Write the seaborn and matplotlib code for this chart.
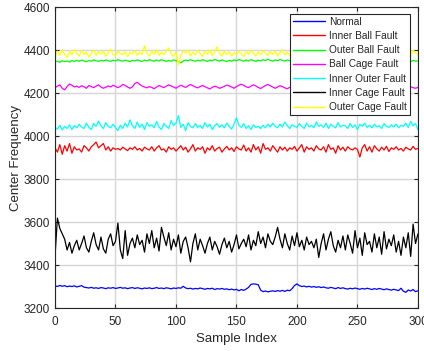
import numpy as np
import pandas as pd
import matplotlib
matplotlib.use("Agg")
import matplotlib.pyplot as plt
import seaborn as sns

# Sample index (every second sample of the 0..300 record)
sample_index = np.arange(0, 301, 2)

normal = [
    3303, 3300, 3305, 3301, 3304, 3299, 3302, 3300, 3303, 3298,
    3301, 3304, 3297, 3295, 3293, 3296, 3292, 3294, 3291, 3295,
    3293, 3290, 3294, 3292, 3295, 3291, 3293, 3296, 3292, 3294,
    3290, 3293, 3295, 3291, 3294, 3292, 3289, 3293, 3291, 3294,
    3290, 3292, 3295, 3291, 3293, 3290, 3294, 3292, 3289, 3293,
    3291, 3294, 3292, 3301, 3293, 3290, 3292, 3288, 3291, 3289,
    3293, 3290, 3287, 3291, 3289, 3292, 3286, 3290, 3288, 3291,
    3287, 3289, 3285, 3288, 3284, 3287, 3280, 3286, 3282, 3288,
    3296, 3310, 3312, 3311, 3308, 3283, 3276, 3279, 3275, 3278,
    3280, 3277, 3281, 3278, 3282, 3277, 3283, 3280, 3290, 3305,
    3312, 3304, 3300, 3302, 3298, 3301, 3297, 3300, 3296, 3299,
    3295, 3298, 3294, 3292, 3296, 3293, 3290, 3295, 3291, 3294,
    3290, 3288, 3292, 3289, 3293, 3290, 3287, 3291, 3288, 3292,
    3289, 3286, 3290, 3287, 3291, 3288, 3285, 3289, 3286, 3283,
    3287, 3284, 3281, 3292, 3278, 3273, 3284, 3279, 3286, 3276,
    3280,
]

inner_ball = [
    3945, 3925, 3960, 3915, 3955, 3930, 3965, 3920, 3950, 3935,
    3940, 3925, 3955, 3945, 3930, 3950, 3960, 3972, 3945, 3955,
    3965, 3935, 3950, 3930, 3945, 3938, 3942, 3935, 3948, 3940,
    3932, 3945, 3938, 3950, 3935, 3942, 3930, 3948, 3940, 3935,
    3950, 3930, 3945, 3955, 3935, 3940, 3925, 3950, 3938, 3945,
    3930, 3942, 3955, 3935, 3948, 3925, 3940, 3960, 3930, 3945,
    3938, 3950, 3920, 3945, 3935, 3955, 3930, 3942, 3948, 3925,
    3940, 3952, 3935, 3945, 3928, 3950, 3940, 3935, 3958, 3930,
    3945, 3925, 3960, 3935, 3950, 3920, 3965, 3938, 3945, 3930,
    3955, 3940, 3925, 3950, 3935, 3948, 3930, 3945, 3938, 3952,
    3930, 3945, 3960, 3925, 3950, 3938, 3945, 3930, 3955, 3940,
    3935, 3950, 3925, 3960, 3938, 3945, 3920, 3955, 3935, 3948,
    3930, 3950, 3940, 3935, 3945, 3938, 3902, 3945, 3960, 3930,
    3950, 3925, 3955, 3940, 3930, 3948, 3935, 3952, 3928, 3945,
    3938, 3950, 3935, 3942, 3930, 3948, 3940, 3935, 3952, 3938,
    3942,
]

outer_ball = [
    4345, 4348, 4343, 4350, 4346, 4349, 4344, 4351, 4347, 4352,
    4348, 4353, 4349, 4346, 4351, 4348, 4354, 4350, 4347, 4352,
    4349, 4354, 4350, 4347, 4353, 4349, 4355, 4351, 4348, 4353,
    4350, 4346, 4352, 4349, 4354, 4350, 4347, 4353, 4349, 4355,
    4351, 4348, 4353, 4349, 4355, 4351, 4347, 4352, 4348, 4354,
    4350, 4346, 4340, 4349, 4353, 4350, 4355, 4351, 4348, 4353,
    4349, 4355, 4351, 4347, 4353, 4350, 4356, 4352, 4348, 4354,
    4350, 4346, 4352, 4348, 4354, 4350, 4356, 4352, 4348, 4353,
    4349, 4355, 4351, 4347, 4353, 4349, 4355, 4351, 4357, 4352,
    4348, 4354, 4350, 4356, 4352, 4348, 4354, 4350, 4356, 4352,
    4348, 4353, 4349, 4355, 4351, 4347, 4353, 4349, 4355, 4351,
    4347, 4353, 4349, 4355, 4351, 4348, 4354, 4350, 4356, 4352,
    4348, 4354, 4350, 4346, 4352, 4348, 4354, 4350, 4356, 4352,
    4348, 4353, 4349, 4355, 4351, 4347, 4353, 4349, 4355, 4351,
    4347, 4353, 4358, 4352, 4348, 4354, 4350, 4346, 4352, 4348,
    4350,
]

ball_cage = [
    4225, 4232, 4238, 4222, 4215, 4230, 4242, 4236, 4228, 4232,
    4226, 4234, 4229, 4222, 4235, 4230, 4225, 4232, 4238, 4228,
    4222, 4227, 4233, 4228, 4236, 4231, 4225, 4230, 4240, 4235,
    4228, 4222, 4229, 4244, 4250, 4240, 4233, 4228, 4224, 4230,
    4226, 4220, 4228, 4235, 4230, 4225, 4232, 4238, 4233, 4228,
    4222, 4230, 4236, 4231, 4226, 4233, 4240, 4234, 4228, 4224,
    4230, 4235, 4229, 4224, 4219, 4226, 4232, 4228, 4222, 4226,
    4231, 4237, 4233, 4228, 4222, 4230, 4236, 4241, 4236, 4229,
    4225, 4232, 4238, 4233, 4226, 4221, 4228, 4235, 4240, 4234,
    4228, 4222, 4228, 4234, 4230, 4224, 4220, 4226, 4232, 4237,
    4232, 4227, 4222, 4228, 4235, 4231, 4226, 4233, 4238, 4232,
    4226, 4220, 4226, 4232, 4228, 4223, 4229, 4236, 4231, 4225,
    4230, 4236, 4232, 4226, 4222, 4227, 4233, 4228, 4224, 4230,
    4226, 4232, 4237, 4231, 4225, 4229, 4234, 4228, 4222, 4226,
    4230, 4224, 4220, 4226, 4232, 4228, 4223, 4229, 4225, 4222,
    4226,
]

inner_outer = [
    4040, 4032, 4050, 4028, 4045, 4035, 4052, 4030, 4048, 4038,
    4055, 4042, 4035, 4060, 4040, 4030, 4058, 4045, 4070, 4048,
    4035, 4062, 4045, 4038, 4055, 4040, 4025, 4050, 4035, 4060,
    4042, 4075, 4048, 4035, 4065, 4040, 4055, 4030, 4062, 4045,
    4052, 4038, 4068, 4042, 4030, 4058, 4045, 4035, 4072, 4048,
    4060, 4095, 4040, 4055, 4025, 4062, 4045, 4038, 4058, 4040,
    4050, 4035, 4062, 4042, 4055, 4030, 4048, 4058, 4040, 4052,
    4038, 4060, 4045, 4032, 4055, 4085, 4050, 4040, 4058, 4035,
    4048, 4030, 4052, 4040, 4045, 4035, 4050, 4038, 4055, 4042,
    4060, 4045, 4038, 4055, 4042, 4065, 4048, 4035, 4052, 4045,
    4040, 4058, 4045, 4035, 4060, 4042, 4050, 4038, 4065, 4045,
    4052, 4040, 4060, 4035, 4055, 4045, 4038, 4062, 4042, 4050,
    4048, 4035, 4058, 4040, 4052, 4030, 4055, 4045, 4060, 4040,
    4050, 4038, 4055, 4042, 4048, 4035, 4058, 4045, 4040, 4052,
    4042, 4055, 4038, 4050, 4045, 4060, 4040, 4068, 4048, 4058,
    4030,
]

inner_cage = [
    3440, 3618, 3570, 3545, 3520, 3470, 3505, 3455, 3490, 3515,
    3470, 3500, 3535, 3480, 3460, 3510, 3550, 3495, 3470, 3530,
    3475, 3455, 3520, 3545, 3490, 3510, 3595, 3470, 3430, 3560,
    3445, 3500, 3525, 3480, 3540, 3495, 3515, 3460, 3545, 3500,
    3560, 3480, 3525, 3465, 3575, 3530, 3490, 3550, 3470, 3520,
    3485, 3540, 3455, 3510, 3530, 3480, 3415, 3500, 3545, 3470,
    3520, 3490, 3455, 3500, 3530, 3470, 3510, 3485, 3450, 3495,
    3525, 3480, 3510, 3460, 3495, 3540, 3475, 3500, 3520, 3485,
    3540, 3470, 3515, 3490, 3555, 3500, 3530, 3480, 3545, 3510,
    3495, 3530, 3575, 3520, 3480, 3545, 3500, 3470, 3535, 3490,
    3550, 3485, 3515, 3470, 3530, 3495, 3510, 3480, 3520, 3435,
    3500, 3545, 3470, 3520, 3555, 3490, 3460, 3515, 3480, 3535,
    3470, 3540, 3500, 3455, 3560, 3480, 3525, 3445, 3550, 3495,
    3510, 3460, 3545, 3480, 3530, 3450, 3555, 3475, 3520, 3490,
    3540, 3460, 3510, 3445, 3530, 3480, 3550, 3440, 3590, 3500,
    3545,
]

outer_cage = [
    4370, 4395, 4375, 4400, 4380, 4365, 4392, 4378, 4402, 4385,
    4372, 4398, 4380, 4390, 4368, 4385, 4400, 4375, 4392, 4382,
    4395, 4370, 4388, 4405, 4380, 4372, 4395, 4385, 4378, 4392,
    4370, 4388, 4382, 4398, 4375, 4390, 4380, 4420, 4385, 4372,
    4395, 4380, 4402, 4375, 4390, 4378, 4395, 4410, 4382, 4370,
    4390, 4330, 4375, 4395, 4385, 4400, 4372, 4390, 4378, 4398,
    4385, 4370, 4395, 4380, 4402, 4375, 4390, 4415, 4385, 4372,
    4395, 4380, 4390, 4372, 4388, 4378, 4395, 4382, 4370, 4392,
    4380, 4400, 4385, 4372, 4390, 4378, 4398, 4385, 4375, 4392,
    4380, 4395, 4372, 4388, 4402, 4378, 4390, 4375, 4395, 4382,
    4370, 4392, 4380, 4398, 4385, 4375, 4400, 4382, 4390, 4372,
    4388, 4378, 4395, 4382, 4370, 4392, 4385, 4400, 4378, 4390,
    4375, 4395, 4382, 4372, 4390, 4385, 4398, 4378, 4392, 4380,
    4395, 4375, 4388, 4402, 4380, 4372, 4395, 4385, 4405, 4378,
    4390, 4382, 4398, 4375, 4392, 4410, 4385, 4372, 4398, 4388,
    4380,
]

conditions = ["Normal", "Inner Ball Fault", "Outer Ball Fault", "Ball Cage Fault",
              "Inner Outer Fault", "Inner Cage Fault", "Outer Cage Fault"]
series = [normal, inner_ball, outer_ball, ball_cage, inner_outer, inner_cage, outer_cage]
colors = ["#0000ff", "#ff0000", "#00ff00", "#ff00ff", "#00ffff", "#000000", "#ffff00"]

df = pd.concat(
    [pd.DataFrame({"Sample Index": sample_index, "Center Frequency": vals, "Condition": name})
     for name, vals in zip(conditions, series)],
    ignore_index=True,
)

sns.set_style("white")
plt.rcParams["font.family"] = ["Liberation Sans", "DejaVu Sans"]

fig = plt.figure(figsize=(4.24, 3.51), dpi=100)
ax = fig.add_axes([0.1297, 0.1225, 0.856, 0.8575])

sns.lineplot(data=df, x="Sample Index", y="Center Frequency", hue="Condition",
             hue_order=conditions, palette=colors, linewidth=0.9, ax=ax,
             estimator=None, sort=False)

ax.set_xlim(0, 300)
ax.set_ylim(3200, 4600)
ax.set_xticks(np.arange(0, 301, 50))
ax.set_yticks(np.arange(3200, 4601, 200))
ax.grid(True, color="#d6d6d6", linewidth=1.0)
ax.set_axisbelow(True)
for sp in ax.spines.values():
    sp.set_visible(True)
    sp.set_color("#262626")
    sp.set_linewidth(0.8)
ax.tick_params(direction="in", length=3, width=0.8, colors="#262626",
               labelsize=8.5, top=True, right=True, left=True, bottom=True,
               labeltop=False, labelright=False)
ax.tick_params(axis="x", pad=6)
ax.set_xlabel("Sample Index", fontsize=9.5, color="#262626", labelpad=3)
ax.set_ylabel("Center Frequency", fontsize=9.5, color="#262626", labelpad=1)

leg = ax.legend(loc="upper right", bbox_to_anchor=(0.978, 0.978), fontsize=7.3,
                frameon=True, fancybox=False, framealpha=1, edgecolor="#262626",
                handlelength=3.2, handletextpad=0.35, borderpad=0.3,
                labelspacing=0.42, borderaxespad=0)
leg.get_frame().set_linewidth(0.8)
for line in leg.get_lines():
    line.set_linewidth(1.0)

fig.savefig("out.png", dpi=100)
